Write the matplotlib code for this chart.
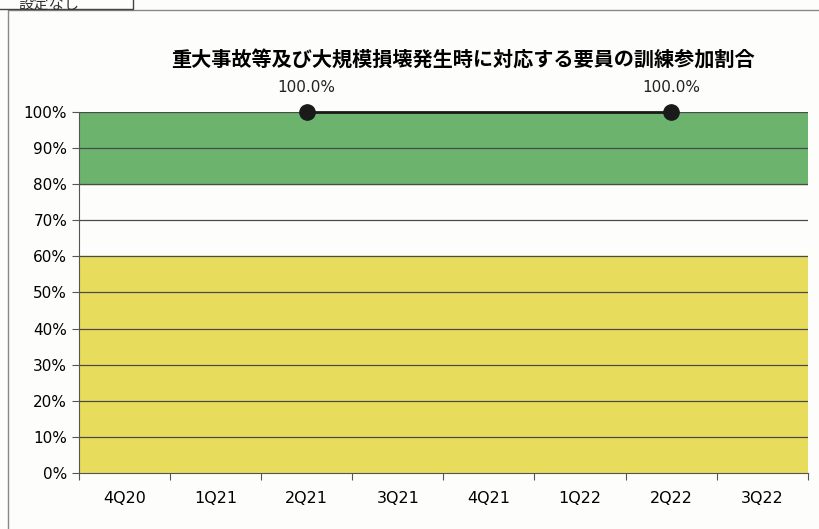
import matplotlib.pyplot as plt
import matplotlib.patches as mpatches
import numpy as np

plt.rcParams['font.family'] = ['Noto Sans CJK JP', 'DejaVu Sans']

quarters = ['4Q20', '1Q21', '2Q21', '3Q21', '4Q21', '1Q22', '2Q22', '3Q22']
ratio = [np.nan, np.nan, 100.0, np.nan, np.nan, np.nan, 100.0, np.nan]
green_band = (80, 100)
yellow_band = (0, 60)
title = '重大事故等及び大規模損壊発生時に対応する要員の訓練参加割合'

fig = plt.figure(figsize=(8.2, 5.29), dpi=100)
fig.patch.set_facecolor('#fdfdfb')
ax = fig.add_axes([0.0963, 0.1059, 0.8887, 0.6824])
ax.set_facecolor('#fdfdfb')

n = len(quarters)
ax.set_xlim(0, n)
ax.set_ylim(0, 100)

ax.axhspan(*green_band, color='#6cb46e', zorder=0)
ax.axhspan(*yellow_band, color='#e8dc5c', zorder=0)
for v in range(10, 101, 10):
    ax.axhline(v, color='#4a4a4a', lw=0.9, zorder=1)

x = np.arange(n) + 0.5
y = np.array(ratio)
ok = ~np.isnan(y)
ax.plot(x[ok], y[ok], color='#1a1a1a', lw=2, marker='o', ms=11, zorder=3, clip_on=False)
for xi, yi in zip(x[ok], y[ok]):
    ax.annotate(f'{yi:.1f}%', (xi, yi), xytext=(0, 12), textcoords='offset points',
                ha='center', va='bottom', fontsize=11, color='#222222',
                family=['DejaVu Sans'])

ax.set_yticks(range(0, 101, 10))
ax.set_yticklabels([f'{v}%' for v in range(0, 101, 10)], fontsize=11, family=['DejaVu Sans'])
ax.set_xticks(np.arange(n + 1))
ax.set_xticklabels([])
ax.set_xticks(x, minor=True)
ax.set_xticklabels(quarters, minor=True, fontsize=11.5, family=['DejaVu Sans'])
ax.tick_params(axis='x', which='minor', length=0, pad=13)
ax.tick_params(axis='x', which='major', length=5, color='#555555')
ax.tick_params(axis='y', length=5, color='#555555')
for s in ['top', 'right']:
    ax.spines[s].set_visible(False)
ax.spines['left'].set_color('#555555')
ax.spines['bottom'].set_color('#555555')

fig.text(0.564, 0.887, title, ha='center', va='center', fontsize=14.5, fontweight='bold')

# outer chart frame and the partly cut-off box at the top left
fig.add_artist(mpatches.Rectangle((0.01, -0.05), 1.2, 1.031, transform=fig.transFigure,
                                  fill=False, ec='#888888', lw=1))
fig.add_artist(mpatches.Rectangle((-0.01, 0.983), 0.172, 0.1, transform=fig.transFigure,
                                  fill=True, fc='#fdfdfb', ec='#444444', lw=1))
fig.text(0.022, 0.992, '設定なし', ha='left', va='center', fontsize=11, color='#333333')

fig.savefig('out.png', dpi=100, facecolor=fig.get_facecolor())
